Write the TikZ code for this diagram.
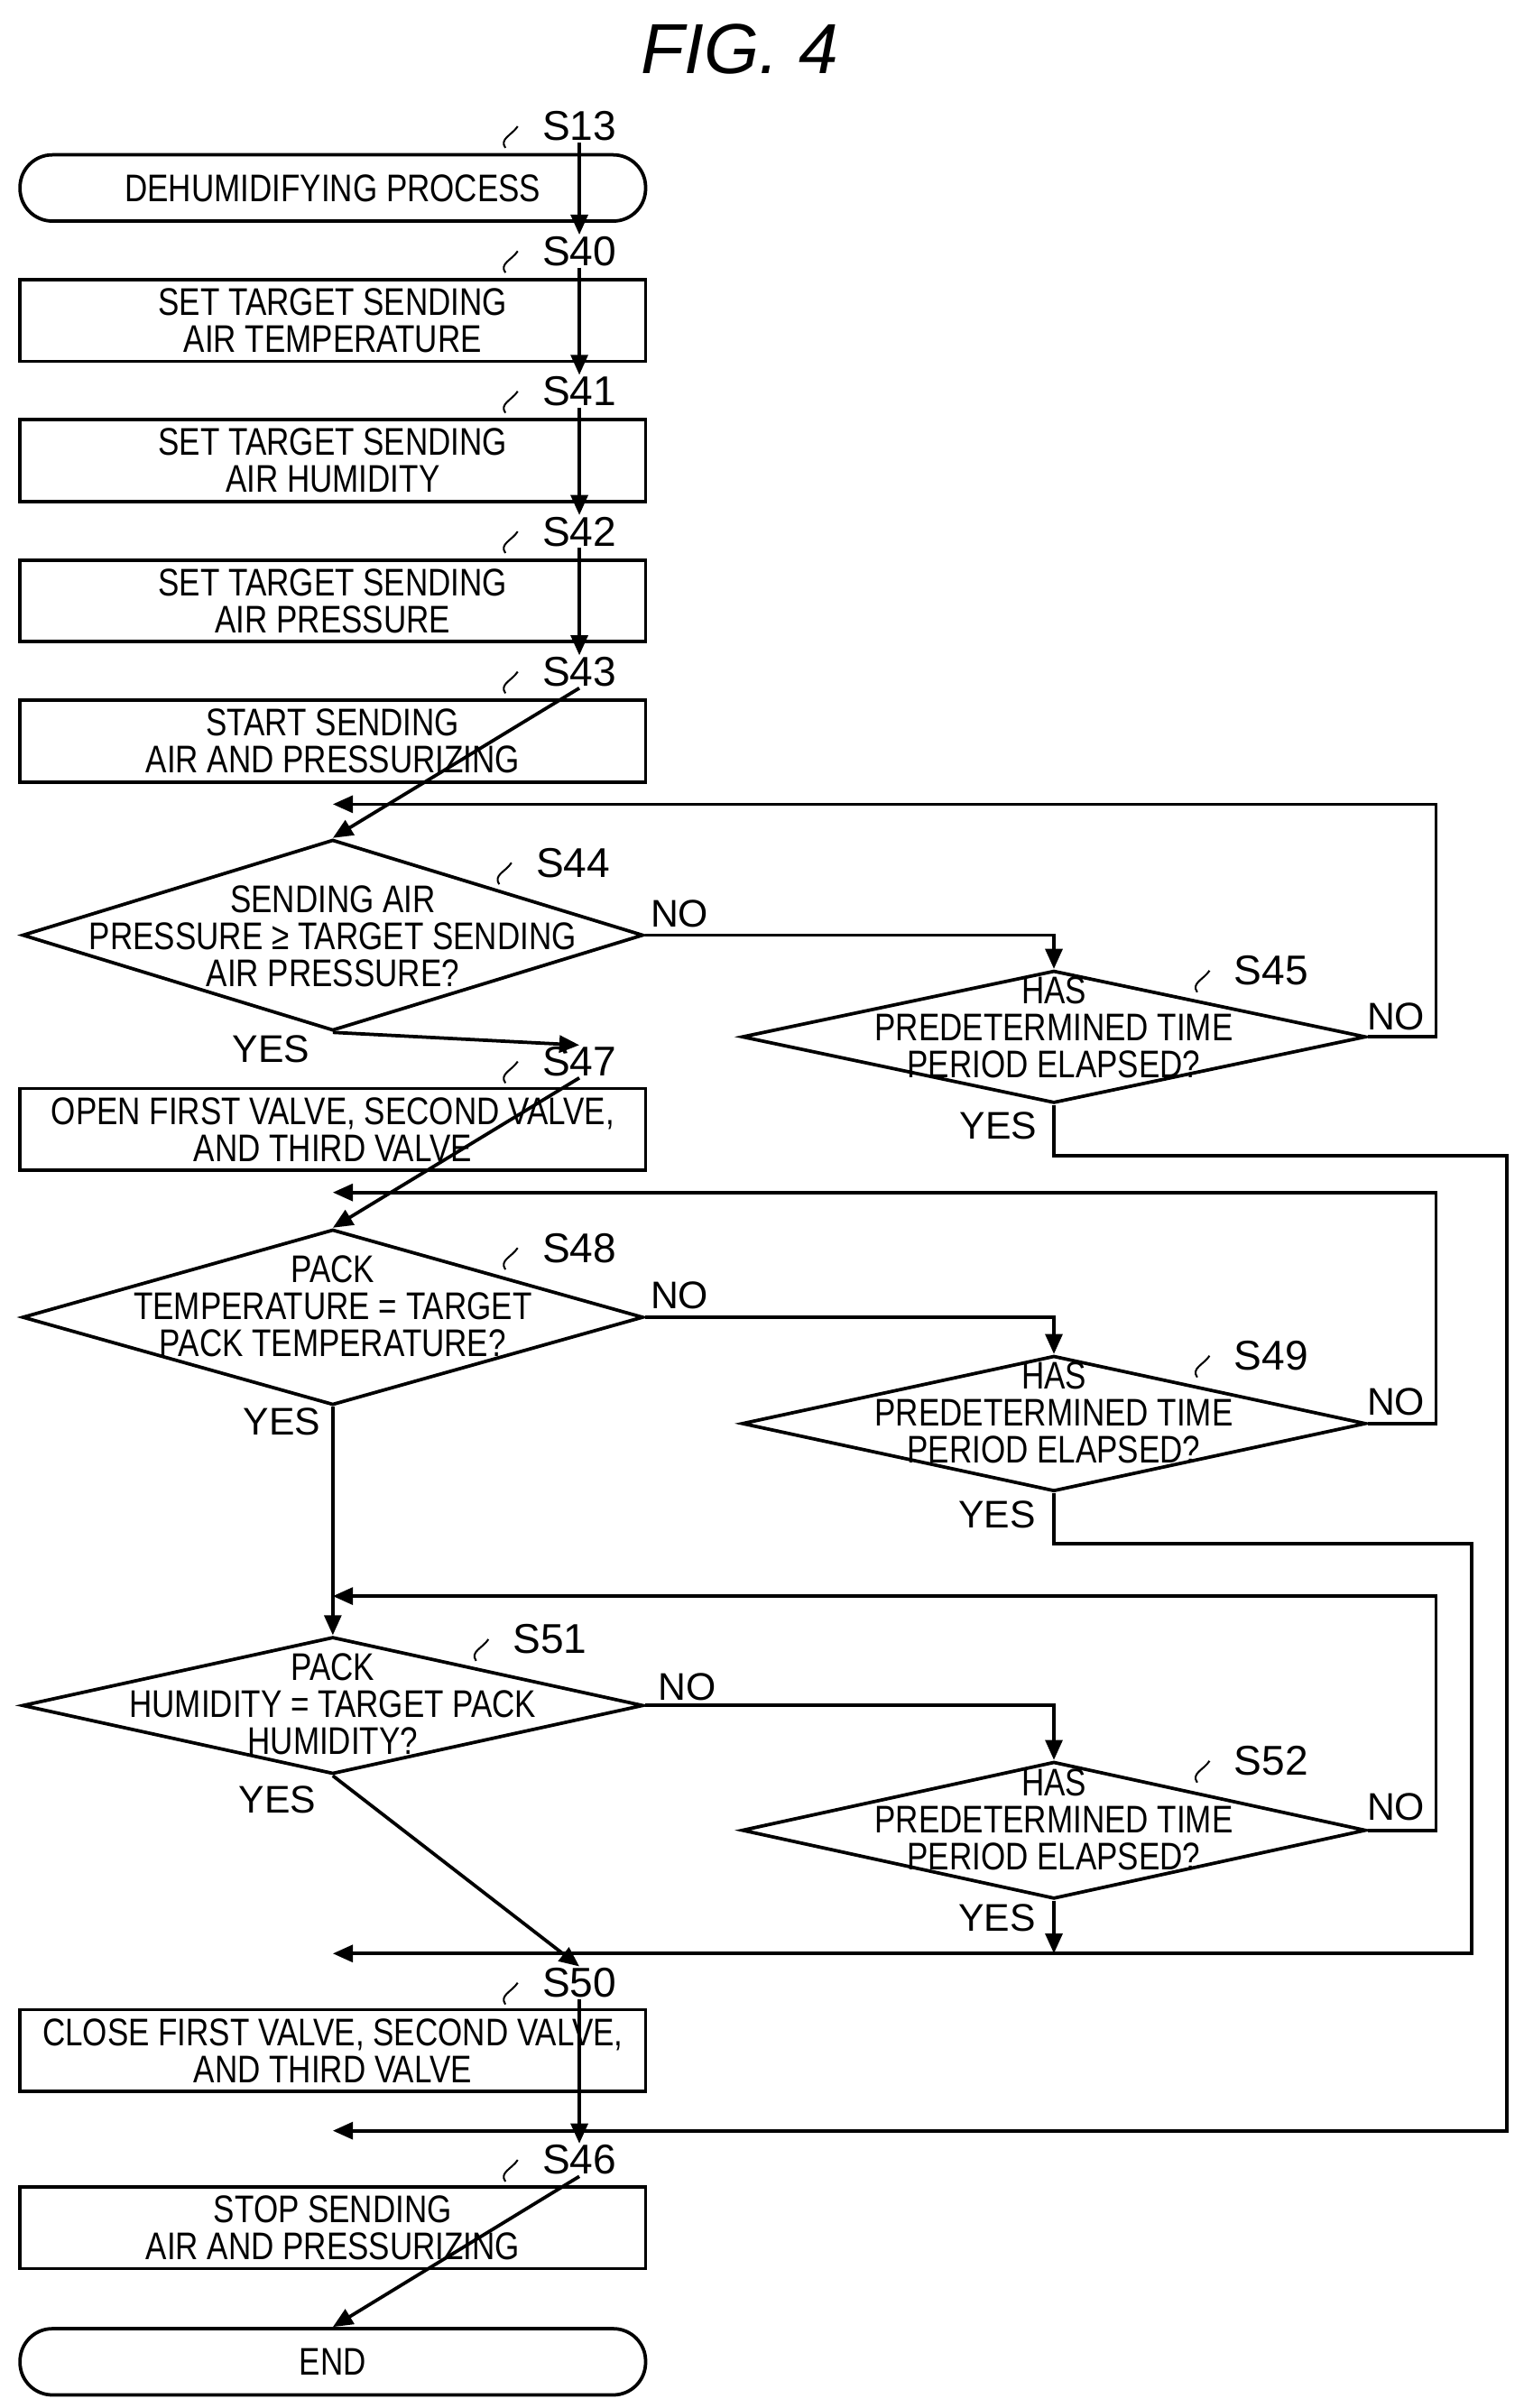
\documentclass[tikz,border=0pt]{standalone}
\usepackage{fontspec}
\setmainfont{Liberation Sans}[FakeStretch=0.82]
\newfontfamily\lblfont{Liberation Sans}
\usetikzlibrary{shapes.geometric,arrows.meta}
\begin{document}
\begin{tikzpicture}[x=1pt,y=-1pt,
  line width=2.2pt,
  every node/.style={font=\fontsize{25}{24}\selectfont},
  box/.style={draw,minimum width=406pt,minimum height=53pt,inner sep=0pt,align=center},
  term/.style={draw,rounded corners=21pt,minimum width=406pt,minimum height=43pt,inner sep=0pt},
  dia/.style={draw,diamond,inner sep=0pt},
  txt/.style={align=center,inner sep=0pt},
  lbl/.style={font=\lblfont\fontsize{27}{27}\selectfont,inner sep=0pt},
  yn/.style={font=\lblfont\fontsize{25}{25}\selectfont,inner sep=0pt},
  arr/.style={-{Triangle[length=13pt,width=11pt]}}]
\useasboundingbox (0,0) rectangle (989,1563);
\node[font=\lblfont\itshape\fontsize{46}{46}\selectfont] (title) at (480,32) {FIG. 4};
% squiggle label macro
\newcommand{\steplbl}[3]{\node[lbl] (#3) at (#1,#2) {\MakeUppercase{#3}};
  \draw[line width=1.2pt] (#1-48,#2+14) .. controls (#1-52,#2+8) and (#1-44,#2+6) .. (#1-40,#2);}
\node[term] (s13) at (216,122) {DEHUMIDIFYING PROCESS};
\steplbl{376}{82}{s13}
\node[box] (s40) at (216,208) {SET TARGET SENDING\\AIR TEMPERATURE};
\steplbl{376}{163}{s40}
\node[box] (s41) at (216,299) {SET TARGET SENDING\\AIR HUMIDITY};
\steplbl{376}{254}{s41}
\node[box] (s42) at (216,390) {SET TARGET SENDING\\AIR PRESSURE};
\steplbl{376}{345}{s42}
\node[box] (s43) at (216,481) {START SENDING\\AIR AND PRESSURIZING};
\steplbl{376}{436}{s43}
% S44
\node[dia,minimum width=403pt,minimum height=124pt] (d44) at (216,607) {};
\node[txt] (t44) at (216,608) {SENDING AIR\\PRESSURE ≥ TARGET SENDING\\AIR PRESSURE?};
\steplbl{372}{560}{s44}
\node[dia,minimum width=405pt,minimum height=86pt] (d45) at (684,673) {};
\node[txt] (t45) at (684,667) {HAS\\PREDETERMINED TIME\\PERIOD ELAPSED?};
\steplbl{825}{630}{s45}
\node[box] (s47) at (216,733) {OPEN FIRST VALVE, SECOND VALVE,\\AND THIRD VALVE};
\steplbl{376}{689}{s47}
% S48
\node[dia,minimum width=403pt,minimum height=114pt] (d48) at (216,855) {};
\node[txt] (t48) at (216,848) {PACK\\TEMPERATURE = TARGET\\PACK TEMPERATURE?};
\steplbl{376}{810}{s48}
\node[dia,minimum width=405pt,minimum height=88pt] (d49) at (684,924) {};
\node[txt] (t49) at (684,917) {HAS\\PREDETERMINED TIME\\PERIOD ELAPSED?};
\steplbl{825}{880}{s49}
% S51
\node[dia,minimum width=403pt,minimum height=89pt] (d51) at (216,1107) {};
\node[txt] (t51) at (216,1106) {PACK\\HUMIDITY = TARGET PACK\\HUMIDITY?};
\steplbl{357}{1064}{s51}
\node[dia,minimum width=405pt,minimum height=89pt] (d52) at (684,1188) {};
\node[txt] (t52) at (684,1181) {HAS\\PREDETERMINED TIME\\PERIOD ELAPSED?};
\steplbl{825}{1143}{s52}
\node[box] (s50) at (216,1331) {CLOSE FIRST VALVE, SECOND VALVE,\\AND THIRD VALVE};
\steplbl{376}{1287}{s50}
\node[box] (s46) at (216,1446) {STOP SENDING\\AIR AND PRESSURIZING};
\steplbl{376}{1402}{s46}
\node[term] (end) at (216,1533) {END};
% coordinates
\coordinate (j1) at (216,522);
\coordinate (j2) at (216,774);
\coordinate (j3) at (216,1036);
\coordinate (j4) at (216,1268);
\coordinate (j5) at (216,1383);
% main flow
\draw[arr] (s13) -- (s40);
\draw[arr] (s40) -- (s41);
\draw[arr] (s41) -- (s42);
\draw[arr] (s42) -- (s43);
\draw[arr] (s43.south) -- (d44.north);
\draw[arr] (d44.south) -- (s47.north);
\draw[arr] (s47.south) -- (d48.north);
\draw[arr] (d48.south) -- (d51.north);
\draw[arr] (d51.south) -- (s50.north);
\draw[arr] (s50.south) -- (s46.north);
\draw[arr] (s46.south) -- (end.north);
% S44/S45
\draw[arr] (d44.east) -| (d45.north);
\draw[arr] (d45.east) -- (932,673) |- (j1);
\draw[arr] (d45.south) |- (978,750) |- (j5);
% S48/S49
\draw[arr] (d48.east) -| (d49.north);
\draw[arr] (d49.east) -- (932,924) |- (j2);
\draw[arr] (d49.south) |- (955,1002) |- (j4);
% S51/S52
\draw[arr] (d51.east) -| (d52.north);
\draw[arr] (d52.east) -- (932,1188) |- (j3);
\draw[arr] (d52.south) -- (684,1268);
% yes/no labels
\node[yn] (n44) at (441,593) {NO};
\node[yn] (y44) at (176,681) {YES};
\node[yn] (n45) at (906,660) {NO};
\node[yn] (y45) at (648,731) {YES};
\node[yn] (n48) at (441,841) {NO};
\node[yn] (y48) at (183,923) {YES};
\node[yn] (n49) at (906,910) {NO};
\node[yn] (y49) at (647,983) {YES};
\node[yn] (n51) at (446,1095) {NO};
\node[yn] (y51) at (180,1168) {YES};
\node[yn] (n52) at (906,1173) {NO};
\node[yn] (y52) at (647,1245) {YES};
\end{tikzpicture}
\end{document}
